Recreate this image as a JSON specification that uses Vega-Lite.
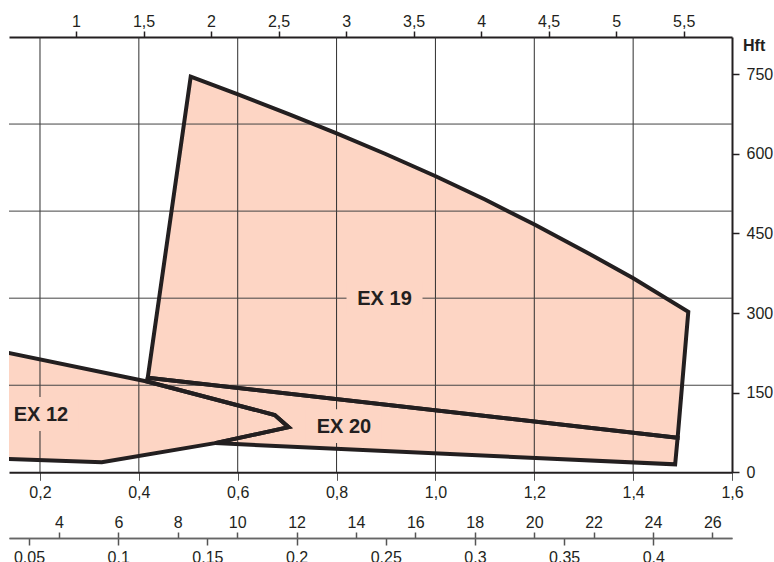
{
  "$schema": "https://vega.github.io/schema/vega-lite/v6.json",
  "width": 723,
  "height": 435.3,
  "autosize": {"type": "none"},
  "padding": {"left": 9, "top": 37, "right": 42, "bottom": 89.7},
  "background": "white",
  "config": {
    "view": {"stroke": null},
    "font": "Liberation Sans",
    "axis": {
      "labelFont": "Liberation Sans",
      "labelFontSize": 16,
      "labelColor": "#231f20",
      "grid": false,
      "labelOverlap": false,
      "labelFlush": false,
      "domainColor": "#231f20",
      "tickColor": "#231f20"
    }
  },
  "datasets": {
    "shapes": [
      {"name": "EX 19", "i": 1, "q": 0.5049, "h": 745.4},
      {"name": "EX 19", "i": 2, "q": 0.5992, "h": 712.5},
      {"name": "EX 19", "i": 3, "q": 0.7058, "h": 674.0},
      {"name": "EX 19", "i": 4, "q": 0.8002, "h": 638.6},
      {"name": "EX 19", "i": 5, "q": 0.898, "h": 600.2},
      {"name": "EX 19", "i": 6, "q": 1.0005, "h": 557.9},
      {"name": "EX 19", "i": 7, "q": 1.1003, "h": 513.9},
      {"name": "EX 19", "i": 8, "q": 1.2014, "h": 466.4},
      {"name": "EX 19", "i": 9, "q": 1.3026, "h": 416.2},
      {"name": "EX 19", "i": 10, "q": 1.4003, "h": 365.7},
      {"name": "EX 19", "i": 11, "q": 1.5116, "h": 302.6},
      {"name": "EX 19", "i": 12, "q": 1.49, "h": 65},
      {"name": "EX 19", "i": 13, "q": 0.418, "h": 178},
      {"name": "EX 20", "i": 1, "q": 0.418, "h": 178},
      {"name": "EX 20", "i": 2, "q": 1.49, "h": 65},
      {"name": "EX 20", "i": 3, "q": 1.485, "h": 15},
      {"name": "EX 20", "i": 4, "q": 0.554, "h": 55},
      {"name": "EX 20", "i": 5, "q": 0.703, "h": 85},
      {"name": "EX 20", "i": 6, "q": 0.675, "h": 108},
      {"name": "EX 20", "i": 7, "q": 0.4165, "h": 171},
      {"name": "EX 12", "i": 1, "q": 0.079, "h": 236},
      {"name": "EX 12", "i": 2, "q": 0.4165, "h": 171},
      {"name": "EX 12", "i": 3, "q": 0.675, "h": 108},
      {"name": "EX 12", "i": 4, "q": 0.703, "h": 85},
      {"name": "EX 12", "i": 5, "q": 0.554, "h": 55},
      {"name": "EX 12", "i": 6, "q": 0.325, "h": 19},
      {"name": "EX 12", "i": 7, "q": 0.079, "h": 27}
    ],
    "labels": [
      {"label": "EX 19", "q": 0.897, "h": 328},
      {"label": "EX 20", "q": 0.815, "h": 87},
      {"label": "EX 12", "q": 0.202, "h": 110}
    ],
    "vgrid": [
      {"q": 0.2}, {"q": 0.4}, {"q": 0.6}, {"q": 0.8}, {"q": 1.0}, {"q": 1.2}, {"q": 1.4}
    ],
    "hgrid": [
      {"h": 164.04}, {"h": 328.08}, {"h": 492.13}, {"h": 656.17}
    ],
    "top": [
      {"t": 1}, {"t": 1.5}, {"t": 2}, {"t": 2.5}, {"t": 3}, {"t": 3.5}, {"t": 4}, {"t": 4.5}, {"t": 5}, {"t": 5.5}
    ],
    "row2": [
      {"v": 4}, {"v": 6}, {"v": 8}, {"v": 10}, {"v": 12}, {"v": 14}, {"v": 16}, {"v": 18}, {"v": 20}, {"v": 22}, {"v": 24}, {"v": 26}
    ],
    "row3": [
      {"w": 0.05}, {"w": 0.1}, {"w": 0.15}, {"w": 0.2}, {"w": 0.25}, {"w": 0.3}, {"w": 0.35}, {"w": 0.4}
    ]
  },
  "layer": [
    {
      "layer": [
        {
          "data": {"name": "shapes"},
          "mark": {"type": "line", "interpolate": "linear-closed", "fill": "#fdd5c4", "strokeOpacity": 0, "strokeWidth": 0, "clip": true},
          "encoding": {
            "x": {
              "field": "q", "type": "quantitative",
              "scale": {"domain": [0.1373, 1.6], "nice": false, "zero": false},
              "axis": {
                "orient": "bottom", "title": null,
                "values": [0.2, 0.4, 0.6, 0.8, 1.0, 1.2, 1.4, 1.6],
                "labelExpr": "replace(format(datum.value, '.1f'), '.', ',')",
                "tickColor": "#555555", "tickSize": 8, "tickWidth": 1,
                "domainWidth": 2, "labelPadding": 4
              }
            },
            "y": {
              "field": "h", "type": "quantitative",
              "scale": {"domain": [0, 820.21], "nice": false, "zero": false},
              "axis": {
                "orient": "right",
                "values": [0, 150, 300, 450, 600, 750],
                "format": "d",
                "tickSize": 7, "tickWidth": 1.5, "labelPadding": 7,
                "domainWidth": 2,
                "title": "Hft", "titleAngle": 0, "titleAlign": "left", "titleBaseline": "middle",
                "titleX": 10.5, "titleY": 8.5, "titleFontSize": 16, "titleFontWeight": "bold",
                "titleColor": "#231f20", "titleFont": "Liberation Sans"
              }
            },
            "order": {"field": "i", "type": "quantitative"},
            "detail": {"field": "name"}
          }
        },
        {
          "data": {"name": "vgrid"},
          "mark": {"type": "rule", "color": "#2e2e2e", "strokeWidth": 1},
          "encoding": {
            "x": {"field": "q", "type": "quantitative", "scale": {"domain": [0.1373, 1.6], "nice": false, "zero": false}}
          }
        },
        {
          "data": {"name": "hgrid"},
          "mark": {"type": "rule", "color": "#444444", "strokeWidth": 1},
          "encoding": {
            "y": {"field": "h", "type": "quantitative", "scale": {"domain": [0, 820.21], "nice": false, "zero": false}}
          }
        },
        {
          "data": {"name": "labels"},
          "mark": {"type": "point", "shape": "M-1,-0.447H1V0.447H-1Z", "size": 5776, "filled": true, "fill": "#fdd5c4", "opacity": 1, "strokeWidth": 0, "clip": true},
          "encoding": {
            "x": {"field": "q", "type": "quantitative", "scale": {"domain": [0.1373, 1.6], "nice": false, "zero": false}},
            "y": {"field": "h", "type": "quantitative", "scale": {"domain": [0, 820.21], "nice": false, "zero": false}}
          }
        },
        {
          "data": {"name": "shapes"},
          "mark": {"type": "line", "interpolate": "linear-closed", "stroke": "#231f20", "strokeWidth": 4, "strokeJoin": "miter", "strokeMiterLimit": 4, "clip": true},
          "encoding": {
            "x": {"field": "q", "type": "quantitative", "scale": {"domain": [0.1373, 1.6], "nice": false, "zero": false}},
            "y": {"field": "h", "type": "quantitative", "scale": {"domain": [0, 820.21], "nice": false, "zero": false}},
            "order": {"field": "i", "type": "quantitative"},
            "detail": {"field": "name"}
          }
        },
        {
          "data": {"name": "labels"},
          "mark": {"type": "text", "font": "Liberation Sans", "fontSize": 20, "fontWeight": "bold", "color": "#231f20", "align": "center", "baseline": "middle", "dy": 1},
          "encoding": {
            "x": {"field": "q", "type": "quantitative", "scale": {"domain": [0.1373, 1.6], "nice": false, "zero": false}},
            "y": {"field": "h", "type": "quantitative", "scale": {"domain": [0, 820.21], "nice": false, "zero": false}},
            "text": {"field": "label"}
          }
        }
      ]
    },
    {
      "data": {"name": "top"},
      "mark": {"type": "point", "opacity": 0},
      "encoding": {
        "x": {
          "field": "t", "type": "quantitative",
          "scale": {"domain": [0.50385, 5.8577], "nice": false, "zero": false},
          "axis": {
            "orient": "top", "title": null,
            "values": [1, 1.5, 2, 2.5, 3, 3.5, 4, 4.5, 5, 5.5],
            "labelExpr": "replace(format(datum.value, '.1~f'), '.', ',')",
            "tickSize": 6, "tickWidth": 1.5, "labelPadding": 2, "domainWidth": 2
          }
        }
      }
    },
    {
      "data": {"name": "row2"},
      "mark": {"type": "point", "opacity": 0},
      "encoding": {
        "x": {
          "field": "v", "type": "quantitative",
          "scale": {"domain": [2.3162, 26.6634], "nice": false, "zero": false},
          "axis": {
            "orient": "top", "offset": -501, "title": null,
            "values": [4, 6, 8, 10, 12, 14, 16, 18, 20, 22, 24, 26],
            "format": "d",
            "tickSize": 6, "tickWidth": 1.5, "labelPadding": 2,
            "domainWidth": 1.5, "domainColor": "#666666", "tickColor": "#555555"
          }
        }
      }
    },
    {
      "data": {"name": "row3"},
      "mark": {"type": "point", "opacity": 0},
      "encoding": {
        "x": {
          "field": "w", "type": "quantitative",
          "scale": {"domain": [0.03879, 0.44412], "nice": false, "zero": false},
          "axis": {
            "orient": "bottom", "offset": 65.7, "title": null,
            "values": [0.05, 0.1, 0.15, 0.2, 0.25, 0.3, 0.35, 0.4],
            "format": ".2~f",
            "tickSize": 7, "tickWidth": 1.5, "labelPadding": 4,
            "domainWidth": 1.5, "domainColor": "#666666", "tickColor": "#555555"
          }
        }
      }
    }
  ],
  "resolve": {
    "scale": {"x": "independent", "y": "independent"},
    "axis": {"x": "independent", "y": "independent"}
  }
}
